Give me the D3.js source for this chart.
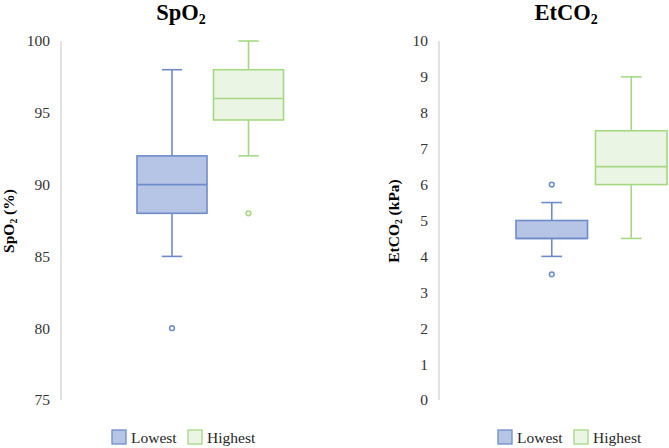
<!DOCTYPE html>
<html>
<head>
<meta charset="utf-8">
<script src="https://cdn.jsdelivr.net/npm/d3@7"></script>
<style>
  body { margin: 0; background: #fff; }
  text { font-family: "Liberation Serif", "Times New Roman", serif; }
</style>
</head>
<body>
<div id="chart"></div>
<script>
// groups shown in both panels
const groups = ['Lowest', 'Highest'];

// SpO2 (%) box stats: [whiskerLow, q1, median, q3, whiskerHigh]
const spo2Stats = [[85, 88, 90, 92, 98], [92, 94.5, 96, 98, 100]];
const spo2Outliers = [[80], [88]];
const spo2Ticks = [75, 80, 85, 90, 95, 100];

// EtCO2 (kPa)
const etco2Stats = [[4, 4.5, 4.5, 5, 5.5], [4.5, 6, 6.5, 7.5, 9]];
const etco2Outliers = [[3.5, 6], []];
const etco2Ticks = [0, 1, 2, 3, 4, 5, 6, 7, 8, 9, 10];

const colors = {
    Lowest:  { stroke: '#6f8cca', fill: '#b6c4e6' },
    Highest: { stroke: '#a6d884', fill: '#ebf5e4' }
};

const W = 669, H = 448;
const svg = d3.select('#chart').append('svg')
    .attr('width', W)
    .attr('height', H);

function subText(sel, main, sub, rest) {
    sel.append('tspan').text(main);
    sel.append('tspan').attr('font-size', '0.62em').attr('dy', '0.3em').text(sub);
    if (rest) sel.append('tspan').attr('dy', '-0.19em').text(rest);
}

function drawPanel(p) {
    const g = svg.append('g');
    const y = d3.scaleLinear().domain(p.domain).range([400, 41]);
    const x = d3.scaleBand().domain(groups).range(p.xRange)
        .paddingInner(p.pad).paddingOuter(0);

    // axis line + tick labels
    g.append('line')
        .attr('x1', p.axisX).attr('x2', p.axisX)
        .attr('y1', y(p.domain[0])).attr('y2', y(p.domain[1]))
        .attr('stroke', '#d9d9d9').attr('stroke-width', 1.5);

    g.selectAll('.tick').data(p.ticks).enter().append('text')
        .attr('class', 'tick')
        .attr('x', p.axisX - 11)
        .attr('y', d => y(d))
        .attr('dy', '0.35em')
        .attr('text-anchor', 'end')
        .attr('font-size', 15.5)
        .attr('fill', '#333')
        .text(d => d);

    // boxes
    groups.forEach((grp, i) => {
        const s = p.stats[i];
        const c = colors[grp];
        const x0 = x(grp), bw = x.bandwidth(), cx = x0 + bw / 2;
        const capW = bw * 0.29;
        const bg = g.append('g')
            .attr('stroke', c.stroke).attr('stroke-width', 1.6);

        bg.append('line').attr('x1', cx).attr('x2', cx)
            .attr('y1', y(s[4])).attr('y2', y(s[3]));
        bg.append('line').attr('x1', cx).attr('x2', cx)
            .attr('y1', y(s[1])).attr('y2', y(s[0]));
        [s[0], s[4]].forEach(v => {
            bg.append('line')
                .attr('x1', cx - capW / 2).attr('x2', cx + capW / 2)
                .attr('y1', y(v)).attr('y2', y(v));
        });
        bg.append('rect')
            .attr('x', x0).attr('width', bw)
            .attr('y', y(s[3])).attr('height', y(s[1]) - y(s[3]))
            .attr('fill', c.fill);
        bg.append('line').attr('x1', x0).attr('x2', x0 + bw)
            .attr('y1', y(s[2])).attr('y2', y(s[2]));

        bg.selectAll('circle').data(p.outliers[i]).enter().append('circle')
            .attr('cx', cx).attr('cy', d => y(d))
            .attr('r', 2.4)
            .attr('fill', '#fff')
            .attr('stroke-width', 1.5);
    });

    // title
    svg.append('text')
        .attr('x', p.titleX).attr('y', 20)
        .attr('text-anchor', 'middle')
        .attr('font-size', 22.5).attr('font-weight', 'bold')
        .call(subText, p.title, '2');

    // y label
    svg.append('text')
        .attr('transform', `translate(${p.labelX},221) rotate(-90)`)
        .attr('text-anchor', 'middle')
        .attr('font-size', 15.5).attr('font-weight', 'bold')
        .call(subText, p.title, '2', p.unit);

    // legend
    const lg = svg.append('g');
    groups.forEach((grp, i) => {
        const lx = p.legendX[i];
        lg.append('rect')
            .attr('x', lx).attr('y', 430)
            .attr('width', 14).attr('height', 14)
            .attr('fill', colors[grp].fill)
            .attr('stroke', colors[grp].stroke).attr('stroke-width', 1.3);
        lg.append('text')
            .attr('x', lx + 19).attr('y', 443)
            .attr('font-size', 15.5).attr('fill', '#262626')
            .text(grp);
    });
}

drawPanel({
    domain: [75, 100], ticks: spo2Ticks,
    stats: spo2Stats, outliers: spo2Outliers,
    axisX: 61, xRange: [137, 283.5], pad: 0.085,
    title: 'SpO', unit: ' (%)', titleX: 181, labelX: 14,
    legendX: [112, 188]
});

drawPanel({
    domain: [0, 10], ticks: etco2Ticks,
    stats: etco2Stats, outliers: etco2Outliers,
    axisX: 439, xRange: [516, 667], pad: 0.1,
    title: 'EtCO', unit: ' (kPa)', titleX: 566, labelX: 399,
    legendX: [498, 574]
});
</script>
</body>
</html>
